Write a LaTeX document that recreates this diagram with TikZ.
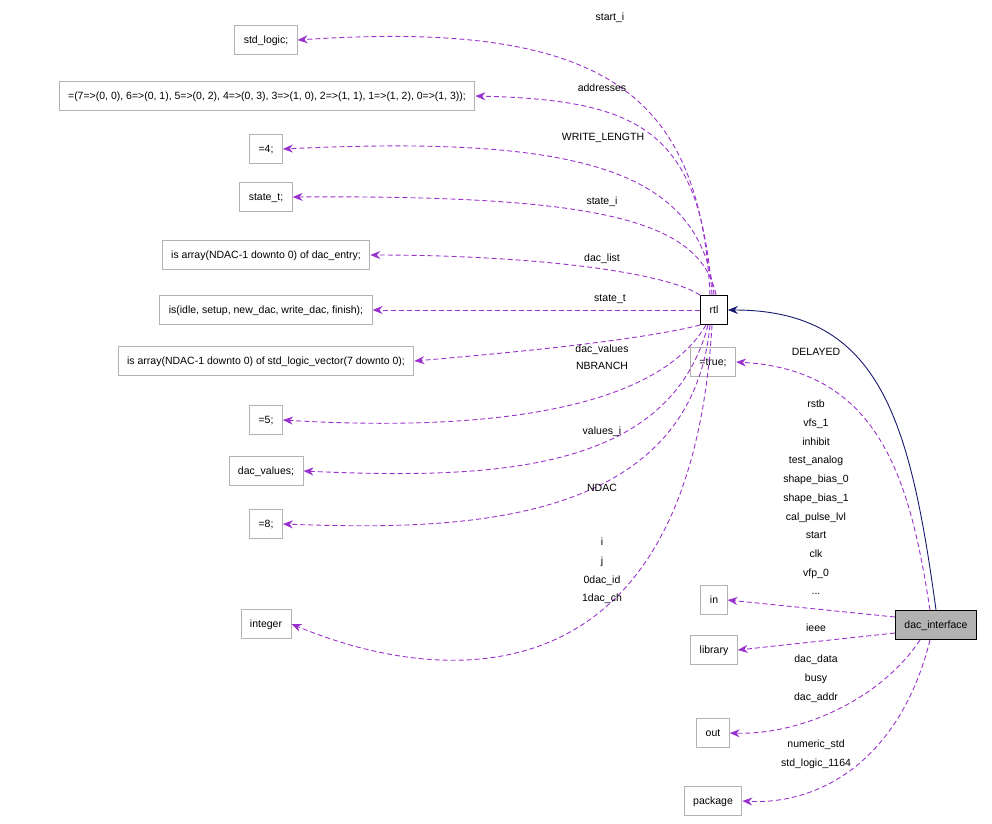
\documentclass[tikz,border=0pt]{standalone}
\usepackage{fontspec}
\setmainfont{Liberation Sans}
\usetikzlibrary{arrows.meta, positioning}
\definecolor{edgepurple}{RGB}{153,50,204}
\definecolor{edgenavy}{RGB}{25,25,112}
\begin{document}
\begin{tikzpicture}[x=1pt, y=-1pt, font=\fontsize{10.5}{18.7}\selectfont,
    box/.style={draw=black!30, line width=0.9pt, fill=white, inner sep=0pt, minimum height=29pt, text height=8pt, text depth=2pt, inner xsep=9pt},
    main/.style={box, draw=black, line width=1.1pt},
    usage/.style={->, >={Stealth[length=10pt, width=8pt]}, line width=0.9pt, dash pattern=on 5pt off 3pt, edgepurple},
    lbl/.style={inner sep=0pt, align=center}]
  \useasboundingbox (0,0) rectangle (992,823);

  \node[box] (stdlogic) at (266,40) {std\_logic;};
  \node[box] (addr) at (267,96) {=(7=>(0, 0), 6=>(0, 1), 5=>(0, 2), 4=>(0, 3), 3=>(1, 0), 2=>(1, 1), 1=>(1, 2), 0=>(1, 3));};
  \node[box] (four) at (266,149) {=4;};
  \node[box] (statet) at (266,197) {state\_t;};
  \node[box] (entry) at (266,255) {is array(NDAC-1 downto 0) of dac\_entry;};
  \node[box] (enum) at (266,310) {is(idle, setup, new\_dac, write\_dac, finish);};
  \node[box] (slv) at (266,361) {is array(NDAC-1 downto 0) of std\_logic\_vector(7 downto 0);};
  \node[box] (five) at (266,420) {=5;};
  \node[box] (dacvalues) at (266,471) {dac\_values;};
  \node[box] (eight) at (266,524) {=8;};
  \node[box] (integer) at (266,624) {integer};
  \node[main] (rtl) at (714,310) {rtl};
  \node[box] (true) at (713,362) {=true;};
  \node[box] (in) at (714,600) {in};
  \node[box] (library) at (714,650) {library};
  \node[box] (out) at (713,733) {out};
  \node[box] (package) at (713,801) {package};
  \node[main, fill=black!30] (dacif) at (936,625) {dac\_interface};

  % rtl members
  \draw[usage] (rtl.north) ++(-4,0) .. controls (700,90) and (600,20) .. (stdlogic.east);
  \draw[usage] (rtl.north) ++(-2,0) .. controls (700,130) and (640,100) .. (addr.east);
  \draw[usage] (rtl.north) .. controls (700,170) and (580,135) .. (four.east);
  \draw[usage] (rtl.north) ++(2,0) .. controls (700,220) and (600,195) .. (statet.east);
  \draw[usage] (rtl.north west) .. controls (660,270) and (520,255) .. (entry.east);
  \draw[usage] (rtl.west) -- (enum.east);
  \draw[usage] (rtl.south west) .. controls (640,340) and (520,352) .. (slv.east);
  \draw[usage] (rtl.south) ++(-8,0) .. controls (650,420) and (450,430) .. (five.east);
  \draw[usage] (rtl.south) ++(-6,0) .. controls (670,470) and (500,480) .. (dacvalues.east);
  \draw[usage] (rtl.south) ++(-4,0) .. controls (690,530) and (450,530) .. (eight.east);
  \draw[usage] (rtl.south) ++(-2,0) .. controls (690,700) and (450,690) .. (integer.east);

  \node[lbl] at (610,18) {start\_i};
  \node[lbl] at (602,88) {addresses};
  \node[lbl] at (603,138) {WRITE\_LENGTH};
  \node[lbl] at (602,202) {state\_i};
  \node[lbl] at (602,259) {dac\_list};
  \node[lbl] at (610,299) {state\_t};
  \node[lbl] at (602,350) {dac\_values};
  \node[lbl] at (602,366) {NBRANCH};
  \node[lbl] at (602,432) {values\_i};
  \node[lbl] at (602,488) {NDAC};
  \node[lbl, anchor=north] at (602,538) {i\\j\\0dac\_id\\1dac\_ch};

  % dac_interface
  \draw[->, >={Stealth[length=10pt, width=8pt]}, line width=0.9pt, edgenavy] (dacif.north) .. controls (910,420) and (880,310) .. (rtl.east);
  \draw[usage] (dacif.north) ++(-6,0) .. controls (910,480) and (880,370) .. (true.east);
  \draw[usage] (dacif.west) ++(0,-8) -- (in.east);
  \draw[usage] (dacif.west) ++(0,8) -- (library.east);
  \draw[usage] (dacif.south) ++(-16,0) .. controls (880,700) and (800,735) .. (out.east);
  \draw[usage] (dacif.south) ++(-6,0) .. controls (900,760) and (820,805) .. (package.east);

  \node[lbl] at (816,352) {DELAYED};
  \node[lbl, anchor=north] at (816,400) {rstb\\vfs\_1\\inhibit\\test\_analog\\shape\_bias\_0\\shape\_bias\_1\\cal\_pulse\_lvl\\start\\clk\\vfp\_0\\...};
  \node[lbl] at (816,628) {ieee};
  \node[lbl, anchor=north] at (816,655) {dac\_data\\busy\\dac\_addr};
  \node[lbl, anchor=north] at (816,740) {numeric\_std\\std\_logic\_1164};
\end{tikzpicture}
\end{document}
